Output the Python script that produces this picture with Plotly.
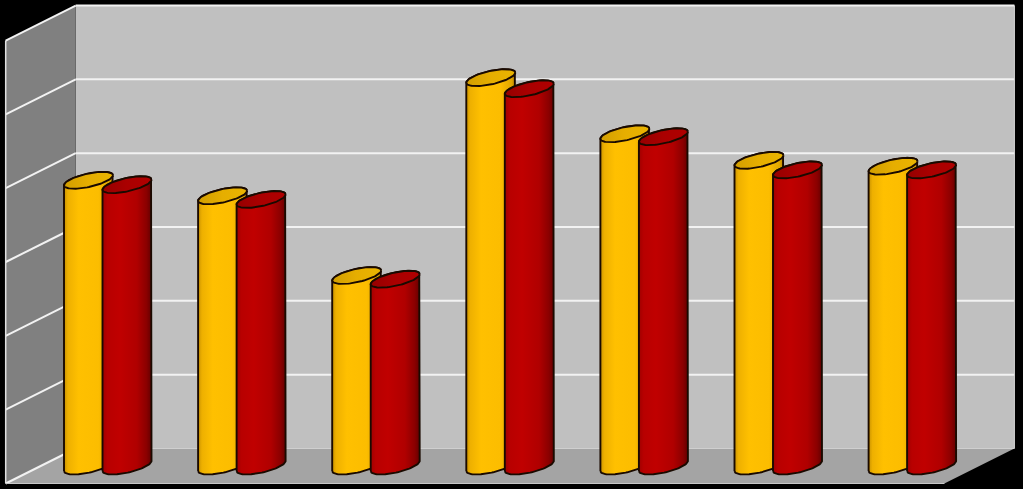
import numpy as np
import plotly.graph_objects as go

# ---- data (grid step = 10) ----
categories = [1, 2, 3, 4, 5, 6, 7]
series_yellow = [38.7, 36.6, 25.8, 52.6, 45.0, 41.4, 40.6]
series_red = [38.1, 36.1, 25.3, 51.1, 44.6, 40.1, 40.1]
grid_ticks = [0, 10, 20, 30, 40, 50, 60]

# ---- geometry of the fake 3d box (axis units) ----
px_x = 134.1          # pixels per category
px_y = 7.383          # pixels per value unit
DX = 35 / px_x        # half floor depth, x
DY = 17.5 / px_y      # half floor depth, y
OFF = 19.25 / px_x    # series offset inside a cluster
A = 24.5 / px_x       # cylinder radius
S = 5 / px_y          # tilt of the ellipses
B = 6.8 / px_y        # ellipse thickness
ymax = grid_ticks[-1]
n = len(categories)
x0, x1 = -0.5, n - 0.5

shapes = []


def poly(pts, fill, line=None):
    path = 'M ' + ' L '.join(f'{x},{y}' for x, y in pts) + ' Z'
    return dict(type='path', path=path, xref='x', yref='y', fillcolor=fill,
                line=dict(width=0) if line is None else line, layer='below')


# back wall, left wall, floor
shapes.append(poly([(x0 + DX, DY), (x1 + DX, DY), (x1 + DX, ymax + DY), (x0 + DX, ymax + DY)], '#c0c0c0'))
shapes.append(poly([(x0 - DX, -DY), (x0 + DX, DY), (x0 + DX, ymax + DY), (x0 - DX, ymax - DY)], '#808080'))
shapes.append(poly([(x0 - DX, -DY), (x1 - DX, -DY), (x1 + DX, DY), (x0 + DX, DY)], '#a4a4a4'))

# grid lines on back and side wall
for v in grid_ticks:
    if v > 0:
        shapes.append(dict(type='line', xref='x', yref='y', x0=x0 + DX, x1=x1 + DX, y0=v + DY, y1=v + DY,
                           line=dict(color='#f2f2f2', width=2), layer='below'))
    shapes.append(dict(type='line', xref='x', yref='y', x0=x0 - DX, x1=x0 + DX, y0=v - DY, y1=v + DY,
                       line=dict(color='#f2f2f2', width=2), layer='below'))

# box edges
shapes.append(dict(type='line', xref='x', yref='y', x0=x0 - DX, x1=x0 - DX, y0=-DY, y1=ymax - DY,
                   line=dict(color='#e0e0e0', width=1.5), layer='below'))
shapes.append(dict(type='line', xref='x', yref='y', x0=x1 + DX, x1=x1 + DX, y0=DY, y1=ymax + DY,
                   line=dict(color='#d8d8d8', width=1), layer='below'))
shapes.append(dict(type='line', xref='x', yref='y', x0=x0 + DX, x1=x1 + DX, y0=DY, y1=DY,
                   line=dict(color='#cfcfcf', width=1), layer='below'))
shapes.append(dict(type='line', xref='x', yref='y', x0=x0 - DX, x1=x1 - DX, y0=-DY, y1=-DY,
                   line=dict(color='#c8c8c8', width=1.2), layer='below'))

yellow_body = [[0, '#c99200'], [0.08, '#eeb000'], [0.3, '#ffc000'], [0.7, '#fcbd00'], [0.92, '#e0a600'], [1, '#b88400']]
red_body = [[0, '#a00000'], [0.1, '#b80000'], [0.35, '#c00000'], [0.7, '#b00000'], [0.9, '#8a0000'], [1, '#640000']]
yellow_top = [[0, '#d29e00'], [0.5, '#e6ae00'], [1, '#eab400']]
red_top = [[0, '#960000'], [0.5, '#aa0000'], [1, '#b00000']]

fig = go.Figure()


def cylinder(xc, val, scale, top_scale):
    tb = np.linspace(np.pi, 2 * np.pi, 50)
    tt = np.linspace(0, np.pi, 50)
    xs = np.concatenate([xc + A * np.cos(tb), xc + A * np.cos(tt)])
    ys = np.concatenate([S * np.cos(tb) + B * np.sin(tb), val + S * np.cos(tt) + B * np.sin(tt)])
    xs = np.append(xs, xs[0])
    ys = np.append(ys, ys[0])
    fig.add_trace(go.Scatter(x=xs, y=ys, mode='lines', fill='toself',
                             fillgradient=dict(type='horizontal', colorscale=scale),
                             line=dict(color='#1a0a00', width=1.9),
                             hoverinfo='skip', showlegend=False))
    t = np.linspace(0, 2 * np.pi, 90)
    fig.add_trace(go.Scatter(x=xc + A * np.cos(t), y=val + S * np.cos(t) + B * np.sin(t),
                             mode='lines', fill='toself',
                             fillgradient=dict(type='horizontal', colorscale=top_scale),
                             line=dict(color='#1a0a00', width=1.9),
                             hoverinfo='skip', showlegend=False))


for i, cat in enumerate(categories):
    cylinder(i - OFF, series_yellow[i], yellow_body, yellow_top)
    cylinder(i + OFF, series_red[i], red_body, red_top)

fig.update_layout(
    width=1023, height=489,
    margin=dict(l=0, r=0, t=0, b=0),
    paper_bgcolor='black', plot_bgcolor='black',
    shapes=shapes,
    xaxis=dict(range=[-107.75 / px_x, (1023 - 107.75) / px_x], visible=False, fixedrange=True),
    yaxis=dict(range=[(466 - 489) / px_y, 466 / px_y], visible=False, fixedrange=True),
)

fig.write_html("out.html", config={'displayModeBar': False},
               post_script="document.body.style.margin='0';document.body.style.background='black';")
